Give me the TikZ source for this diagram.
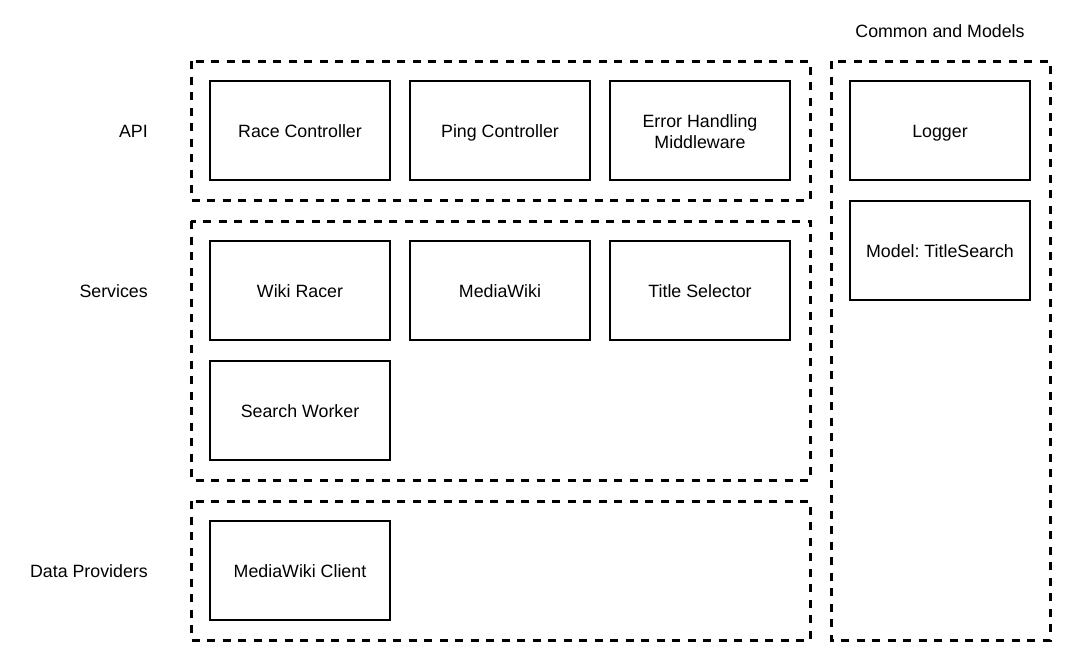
\documentclass[tikz,border=0pt]{standalone}
\usepackage{fontspec}
\setmainfont{Liberation Sans}
\frenchspacing
\begin{document}
\begin{tikzpicture}[x=1pt,y=-1pt,
  group/.style={draw=black,line width=3pt,dash pattern=on 8pt off 7.5pt},
  comp/.style={draw=black,line width=1.3pt,fill=white,minimum width=180pt,minimum height=99pt,inner sep=0pt,align=center,font=\fontsize{17.8}{20.5}\selectfont,text height=14.6pt,text depth=0pt},
  lbl/.style={inner sep=0pt,font=\fontsize{17.8}{20.5}\selectfont}]
\useasboundingbox[fill=white] (0,0) rectangle (1072,662);
% groups
\draw[group] (191,61) rectangle (810,200);
\draw[group] (191,221) rectangle (810,480);
\draw[group] (191,501) rectangle (810,640);
\draw[group] (831,61) rectangle (1050,640);
% labels
\node[lbl,anchor=east] (lapi) at (148,131.5) {API};
\node[lbl,anchor=east] (lsrv) at (148,291.5) {Services};
\node[lbl,anchor=east] (ldp) at (148,571.5) {Data Providers};
\node[lbl] (lcm) at (940,31.5) {Common and Models};
% API
\node[comp] (race) at (300,130.5) {Race Controller};
\node[comp] (ping) at (500,130.5) {Ping Controller};
\node[comp,text height=,text depth=] (err) at (700,130.5) {};
\node[inner sep=0pt,align=center,font=\fontsize{17.8}{20.5}\selectfont] (errtxt) at ([yshift=-1pt]err.center) {Error Handling\\Middleware};
% Services
\node[comp] (wiki) at (300,290.5) {Wiki Racer};
\node[comp] (mw) at (500,290.5) {MediaWiki};
\node[comp] (ts) at (700,290.5) {Title Selector};
\node[comp] (sw) at (300,410.5) {Search Worker};
% Data providers
\node[comp] (mwc) at (300,570.5) {MediaWiki Client};
% Common
\node[comp] (log) at (940,130.5) {Logger};
\node[comp] (model) at (940,250.5) {Model: TitleSearch};
\end{tikzpicture}
\end{document}
